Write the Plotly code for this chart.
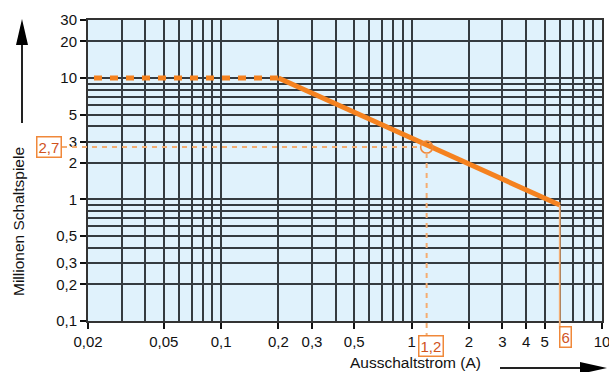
import math
import plotly.graph_objects as go

# ---------------- data ----------------
x_tick_vals = [0.02, 0.05, 0.1, 0.2, 0.3, 0.5, 1, 2, 3, 4, 5, 10]
x_tick_text = ["0,02", "0,05", "0,1", "0,2", "0,3", "0,5", "1", "2", "3", "4", "5", "10"]
y_tick_vals = [0.1, 0.2, 0.3, 0.5, 1, 2, 3, 5, 10, 20, 30]
y_tick_text = ["0,1", "0,2", "0,3", "0,5", "1", "2", "3", "5", "10", "20", "30"]

x_grid = [m * d for d in (0.01, 0.1, 1) for m in range(1, 10)] + [10]
x_grid = [v for v in x_grid if v >= 0.02]
y_grid = [m * d for d in (0.1, 1) for m in range(1, 10)] + [10, 20, 30]

flat_x = [0.0215, 0.2]          # dashed section
flat_y = [10, 10]
slope_x = [0.2, 6]              # solid section
slope_y = [10, 0.9]

mark_x = 1.2                    # read-off point
mark_y = 2.7
end_x = 6
end_y = 0.9

X_RANGE = [math.log10(0.02), math.log10(10)]
Y_RANGE = [math.log10(0.1), math.log10(30)]

# plot area in pixels (for off-axis decorations)
W, H = 609, 372
L, R, T, B = 88, 7, 20, 51
PW, PH = W - L - R, H - T - B


def xp(v):  # data -> paper (x)
    return (math.log10(v) - X_RANGE[0]) / (X_RANGE[1] - X_RANGE[0])


def yp(v):  # data -> paper (y)
    return (math.log10(v) - Y_RANGE[0]) / (Y_RANGE[1] - Y_RANGE[0])


def px2x(p):  # pixel -> paper
    return (p - L) / PW


def px2y(p):
    return (H - B - p) / PH


ORANGE = "#f5821f"
LIGHT = "#f4ad72"
BOXTXT = "#d0531d"
BOXLINE = "#f0883a"
GRID = "#353b40"
FONT = "Liberation Sans, Arial, sans-serif"

fig = go.Figure()

fig.add_trace(go.Scatter(x=flat_x, y=flat_y, mode="lines",
                         line=dict(color=ORANGE, width=5, dash="8px,8px"),
                         hoverinfo="skip", showlegend=False))
fig.add_trace(go.Scatter(x=slope_x, y=slope_y, mode="lines",
                         line=dict(color=ORANGE, width=5),
                         hoverinfo="skip", showlegend=False))
fig.add_trace(go.Scatter(x=[mark_x], y=[mark_y], mode="markers",
                         marker=dict(symbol="circle-open", size=12, color=BOXLINE,
                                     line=dict(color=BOXLINE, width=1.6)),
                         hoverinfo="skip", showlegend=False))

shapes = []
# horizontal reference at 2,7 (from box to circle)
shapes.append(dict(type="line", xref="paper", yref="paper",
                   x0=px2x(62), x1=xp(mark_x) - 0.012, y0=yp(mark_y), y1=yp(mark_y),
                   line=dict(color=LIGHT, width=2, dash="5px,5px"), layer="above"))
# vertical reference at 1,2 (from circle down to box)
shapes.append(dict(type="line", xref="paper", yref="paper",
                   x0=xp(mark_x), x1=xp(mark_x), y0=yp(mark_y) - 0.02, y1=px2y(337),
                   line=dict(color=LIGHT, width=2, dash="5px,5px"), layer="above"))
# vertical line at 6 (from curve end down to box)
shapes.append(dict(type="line", xref="paper", yref="paper",
                   x0=xp(end_x), x1=xp(end_x), y0=yp(end_y), y1=px2y(329),
                   line=dict(color=LIGHT, width=1.8), layer="above"))

# arrows
ARW = "#222222"
shapes.append(dict(type="line", xref="paper", yref="paper",
                   x0=px2x(22), x1=px2x(22), y0=px2y(123), y1=px2y(40),
                   line=dict(color=ARW, width=2)))
shapes.append(dict(type="path", xref="paper", yref="paper",
                   path=f"M {px2x(16)} {px2y(45)} L {px2x(22)} {px2y(19)} L {px2x(28)} {px2y(45)} Z",
                   fillcolor="#000000", line=dict(width=0)))
shapes.append(dict(type="line", xref="paper", yref="paper",
                   x0=px2x(500), x1=px2x(585), y0=px2y(368), y1=px2y(368),
                   line=dict(color=ARW, width=2)))
shapes.append(dict(type="path", xref="paper", yref="paper",
                   path=f"M {px2x(580)} {px2y(362)} L {px2x(607)} {px2y(368)} L {px2x(580)} {px2y(374)} Z",
                   fillcolor="#000000", line=dict(width=0)))

annotations = [
    dict(text="2,7", xref="paper", yref="y", x=px2x(62), y=math.log10(mark_y),
         xanchor="right", yanchor="middle", showarrow=False,
         font=dict(family=FONT, size=15, color=BOXTXT),
         bordercolor=BOXLINE, borderwidth=1.5, borderpad=1, bgcolor="white"),
    dict(text="1,2", xref="x", yref="paper", x=math.log10(mark_x), y=px2y(346),
         xanchor="center", yanchor="middle", xshift=4, showarrow=False,
         font=dict(family=FONT, size=15, color=BOXTXT),
         bordercolor=BOXLINE, borderwidth=1.5, borderpad=1, bgcolor="white"),
    dict(text="6", xref="x", yref="paper", x=math.log10(end_x), y=px2y(337),
         xanchor="left", yanchor="middle", xshift=-1, showarrow=False,
         font=dict(family=FONT, size=15, color=BOXTXT),
         bordercolor=BOXLINE, borderwidth=1.5, borderpad=1, bgcolor="white"),
    dict(text="Millionen Schaltspiele", xref="paper", yref="paper",
         x=px2x(18), y=px2y(222), textangle=-90, showarrow=False,
         xanchor="center", yanchor="middle",
         font=dict(family=FONT, size=15.5, color="#111111")),
    dict(text="Ausschaltstrom (A)", xref="paper", yref="paper",
         x=px2x(415), y=px2y(362), showarrow=False,
         xanchor="center", yanchor="middle",
         font=dict(family=FONT, size=15.5, color="#111111")),
]

axis_common = dict(showgrid=True, gridcolor=GRID, gridwidth=1.7,
                   ticks="outside", ticklen=6, tickwidth=1.5, tickcolor="#111111",
                   showline=True, linecolor="#333333", linewidth=2, mirror=True,
                   zeroline=False, automargin=False, ticklabeloverflow="allow",
                   tickfont=dict(family=FONT, size=15, color="#111111"))

fig.update_layout(
    width=W, height=H,
    margin=dict(l=L, r=R, t=T, b=B, pad=0, autoexpand=False),
    paper_bgcolor="white", plot_bgcolor="#e0f2fc",
    shapes=shapes, annotations=annotations,
    xaxis=dict(type="log", range=X_RANGE, tickmode="array",
               tickvals=x_tick_vals, ticktext=x_tick_text,
               minor=dict(tickmode="array", tickvals=x_grid, showgrid=True,
                          gridcolor=GRID, gridwidth=1.7, ticks=""),
               **axis_common),
    yaxis=dict(type="log", range=Y_RANGE, tickmode="array",
               tickvals=y_tick_vals, ticktext=y_tick_text,
               minor=dict(tickmode="array", tickvals=y_grid, showgrid=True,
                          gridcolor=GRID, gridwidth=1.7, ticks=""),
               **axis_common),
)

fig.write_html("out.html")
